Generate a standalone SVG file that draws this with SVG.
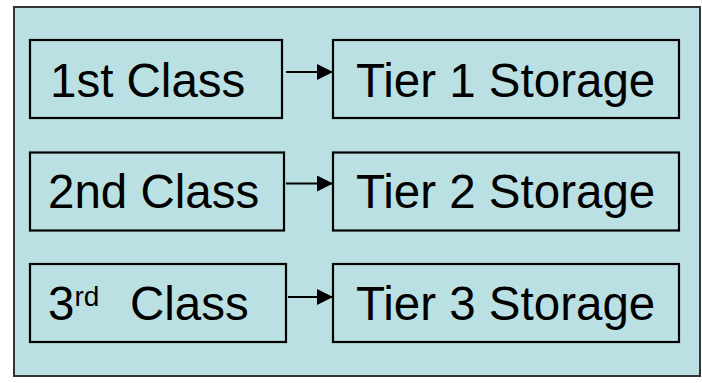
<svg xmlns="http://www.w3.org/2000/svg" width="702" height="383" viewBox="0 0 702 383">
<defs>
<style>
.frame{fill:#BBE0E3;stroke:#333;stroke-width:2}
.box{fill:#BBE0E3;stroke:#000;stroke-width:2.2}
.t{font-family:"Liberation Sans",Arial,sans-serif;font-size:47.5px;fill:#000}
.c{stroke:#000;stroke-width:2.2;fill:none}
</style>
<marker id="ah" viewBox="0 0 16 16" refX="16" refY="8" markerWidth="16" markerHeight="16" markerUnits="userSpaceOnUse" orient="auto">
<path d="M0,0 L16,8 L0,16 Z" fill="#000"/>
</marker>
</defs>
<rect width="702" height="383" fill="#fff"/>
<rect class="frame" x="14" y="7" width="686" height="369"/>
<g id="class1"><rect class="box" x="30" y="40" width="252" height="78"/><text class="t" x="50" y="97">1st Class</text></g>
<g id="tier1"><rect class="box" x="333" y="40" width="346" height="78"/><text class="t" x="356" y="97">Tier 1 Storage</text></g>
<g id="class2"><rect class="box" x="30" y="152.5" width="254" height="78"/><text class="t" x="48" y="208">2nd Class</text></g>
<g id="tier2"><rect class="box" x="333" y="152.5" width="346" height="78"/><text class="t" x="356" y="208">Tier 2 Storage</text></g>
<g id="class3"><rect class="box" x="30" y="264" width="256" height="78"/><text class="t" x="48" y="319.5">3<tspan font-size="28" dy="-14">rd</tspan><tspan x="130" dy="14">Class</tspan></text></g>
<g id="tier3"><rect class="box" x="333" y="264" width="346" height="78"/><text class="t" x="356" y="319.5">Tier 3 Storage</text></g>
<g id="connectors">
<line class="c" x1="286" y1="72" x2="333" y2="72" marker-end="url(#ah)"/>
<line class="c" x1="286" y1="183.5" x2="333" y2="183.5" marker-end="url(#ah)"/>
<line class="c" x1="288" y1="297" x2="333" y2="297" marker-end="url(#ah)"/>
</g>
</svg>
